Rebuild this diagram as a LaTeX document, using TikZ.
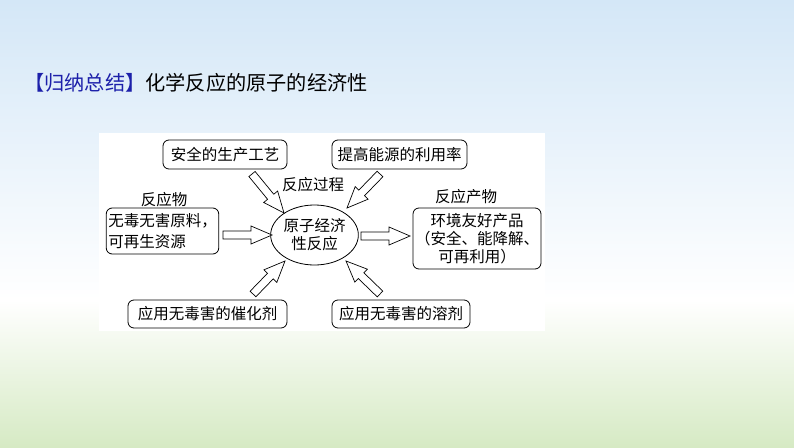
\documentclass[tikz,border=0pt]{standalone}
\usepackage{fontspec}
\setmainfont{Noto Sans CJK SC}
\usetikzlibrary{calc,shapes.geometric}
\definecolor{titleblue}{RGB}{28,32,170}
\definecolor{skytop}{RGB}{212,231,247}
\definecolor{grassbot}{RGB}{214,234,196}

\begin{document}
\begin{tikzpicture}[x=1pt, y=-1pt, font=\fontsize{15.5}{18}\selectfont,
    box/.style={draw, rounded corners=6pt, thick, inner sep=2pt},
    core/.style={draw, ellipse, thick, minimum width=81pt, minimum height=60pt, inner sep=0pt, align=center},
    hollow/.style={draw, fill=white, line width=0.7pt, line join=miter,
      to path={let \p1=(\tikztostart), \p2=(\tikztotarget),
        \n1={atan2(\y2-\y1,\x2-\x1)}, \n2={veclen(\x2-\x1,\y2-\y1)} in
        ($(\p1)+(\n1+90:4pt)$) -- ($(\p1)+(\n1:\n2-21pt)+(\n1+90:4pt)$)
        -- ($(\p1)+(\n1:\n2-21pt)+(\n1+90:9pt)$) -- (\p2)
        -- ($(\p1)+(\n1:\n2-21pt)+(\n1-90:9pt)$) -- ($(\p1)+(\n1:\n2-21pt)+(\n1-90:4pt)$)
        -- ($(\p1)+(\n1-90:4pt)$) -- cycle}}]
        %background
        \shade[top color=skytop, bottom color=white] (0,0) rectangle (794,300);
        \shade[top color=white, bottom color=grassbot] (0,300) rectangle (794,447);
        \fill[white] (99,133) rectangle (545,331);
        \useasboundingbox (0,0) rectangle (794,447);
        %title
        \node[anchor=west, font=\fontsize{20.2}{24}\selectfont, inner sep=0pt] (title) at (24,83)
          {\textcolor{titleblue}{【归纳总结】}化学反应的原子的经济性};
        %nodes
        \node[core] (atom) at (314.5,235) {原子经济\\性反应};
        \node[box, minimum width=124pt, minimum height=29pt] (safe) at (225,154.5) {安全的生产工艺};
        \node[box, minimum width=135pt, minimum height=29pt] (energy) at (399.5,154.5) {提高能源的利用率};
        \node[box, minimum width=111pt, minimum height=46pt, align=left,
          font=\fontsize{15.5}{21}\selectfont] (raw) at (162.5,231) {无毒无害原料，\\可再生资源};
        \node[box, minimum width=120pt, minimum height=61pt, align=center] (product) at (477,238.5)
          {环境友好产品\\（安全、能降解、\\可再利用）};
        \node[box, minimum width=159pt, minimum height=28pt] (catalyst) at (207.5,314) {应用无毒害的催化剂};
        \node[box, minimum width=138pt, minimum height=28pt] (solvent) at (401,314) {应用无毒害的溶剂};
        \node (process) at (313,185) {反应过程};
        \node (reactant) at (164,200) {反应物};
        \node (result) at (466,197) {反应产物};
        %arrow ends
        \coordinate (s1) at (252,174);  \coordinate (t1) at (284,213);
        \coordinate (s2) at (380,174);  \coordinate (t2) at (347,208);
        \coordinate (s3) at (223,235);  \coordinate (t3) at (272,235);
        \coordinate (s4) at (361,236);  \coordinate (t4) at (410,236);
        \coordinate (s5) at (253,294);  \coordinate (t5) at (285,261);
        \coordinate (s6) at (380,294);  \coordinate (t6) at (346,261);
        %edges
        \path[hollow] (s1) to (t1);
        \path[hollow] (s2) to (t2);
        \path[hollow] (s3) to (t3);
        \path[hollow] (s4) to (t4);
        \path[hollow] (s5) to (t5);
        \path[hollow] (s6) to (t6);
      \end{tikzpicture}
\end{document}
